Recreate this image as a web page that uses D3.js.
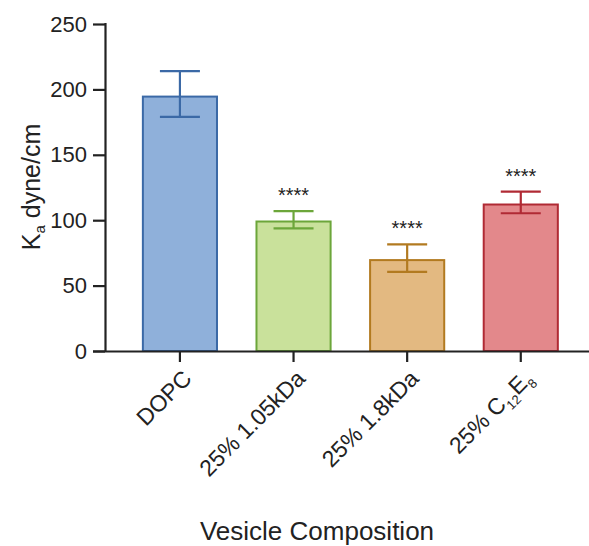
<!DOCTYPE html>
<html>
<head>
<meta charset="utf-8">
<script src="https://cdn.jsdelivr.net/npm/d3@7"></script>
<style>
  html, body { margin: 0; padding: 0; background: #fff; }
  svg { display: block; font-family: Arial, "Liberation Sans", Helvetica, sans-serif; }
</style>
</head>
<body>
<svg id="chart" width="589" height="546"></svg>
<script>
// Area compressibility modulus by vesicle composition
const categories = ["DOPC", "25% 1.05kDa", "25% 1.8kDa", "25% C12E8"];
const means      = [194.5, 99, 69.5, 112];
const errUpper   = [19.5, 8, 12, 9.8];
const errLower   = [15.5, 5.2, 9, 6.7];
const signif     = ["", "****", "****", "****"];
const yTicks     = [0, 50, 100, 150, 200, 250];
const fills      = ["#8fb0da", "#c9e19b", "#e3b981", "#e3888b"];
const strokes    = ["#3b69a6", "#6ca63a", "#b27a20", "#b02a34"];

const svg = d3.select("#chart");
const x0 = 105, x1 = 589, yTop = 24, yBase = 351;

const x = d3.scaleBand()
  .domain(categories)
  .range([x0, x1])
  .paddingInner(0.33)
  .paddingOuter(0.295)
  .align(0.55);

const y = d3.scaleLinear().domain([0, 250]).range([yBase, yTop]);

const data = categories.map((c, i) => ({
  c, m: means[i], hi: means[i] + errUpper[i], lo: means[i] - errLower[i],
  s: signif[i], fill: fills[i], stroke: strokes[i]
}));

// bars
svg.append("g").selectAll("rect").data(data).join("rect")
  .attr("x", d => x(d.c) + 1)
  .attr("width", x.bandwidth() - 2)
  .attr("y", d => y(d.m))
  .attr("height", d => y(0) - y(d.m))
  .attr("fill", d => d.fill)
  .attr("stroke", d => d.stroke)
  .attr("stroke-width", 2);

// error bars
const capW = 40;
const eb = svg.append("g").selectAll("g").data(data).join("g")
  .attr("stroke", d => d.stroke).attr("stroke-width", 2.2).attr("fill", "none");
eb.append("line")
  .attr("x1", d => x(d.c) + x.bandwidth() / 2)
  .attr("x2", d => x(d.c) + x.bandwidth() / 2)
  .attr("y1", d => y(d.hi)).attr("y2", d => y(d.lo));
eb.append("line")
  .attr("x1", d => x(d.c) + x.bandwidth() / 2 - capW / 2)
  .attr("x2", d => x(d.c) + x.bandwidth() / 2 + capW / 2)
  .attr("y1", d => y(d.hi)).attr("y2", d => y(d.hi));
eb.append("line")
  .attr("x1", d => x(d.c) + x.bandwidth() / 2 - capW / 2)
  .attr("x2", d => x(d.c) + x.bandwidth() / 2 + capW / 2)
  .attr("y1", d => y(d.lo)).attr("y2", d => y(d.lo));

// significance stars
svg.append("g").selectAll("text").data(data.filter(d => d.s)).join("text")
  .attr("x", d => x(d.c) + x.bandwidth() / 2)
  .attr("y", d => y(d.hi) - 9)
  .attr("text-anchor", "middle")
  .attr("font-size", 20)
  .attr("fill", "#222")
  .text(d => d.s);

// y axis
const yAxis = svg.append("g")
  .attr("transform", `translate(${x0},0)`)
  .call(d3.axisLeft(y).tickValues(yTicks).tickSize(12).tickPadding(6).tickSizeOuter(0));
yAxis.select(".domain").attr("stroke", "#222").attr("stroke-width", 2.2)
  .attr("d", `M0.5,${yTop - 1}V${yBase}`);
yAxis.selectAll(".tick line").attr("stroke", "#222").attr("stroke-width", 2.2);
yAxis.selectAll(".tick text").attr("font-size", 22).attr("fill", "#222")
  .attr("font-family", "Arial, 'Liberation Sans', sans-serif");

// x axis
const xAxis = svg.append("g")
  .attr("transform", `translate(0,${yBase})`)
  .call(d3.axisBottom(x).tickSize(11).tickSizeOuter(0));
xAxis.select(".domain").attr("stroke", "#222").attr("stroke-width", 2.2)
  .attr("d", `M${x0 - 12},0.5H${x1}`);
xAxis.selectAll(".tick line").attr("stroke", "#222").attr("stroke-width", 2.2);
xAxis.selectAll(".tick text").remove();

// rotated category labels, with subscripts for C12E8
const labelG = xAxis.selectAll(".tick").append("text")
  .attr("transform", "translate(13,29) rotate(-45)")
  .attr("text-anchor", "end")
  .attr("font-size", 23)
  .attr("fill", "#222")
  .attr("font-family", "Arial, 'Liberation Sans', sans-serif");
labelG.each(function(d) {
  const t = d3.select(this);
  if (d === "25% C12E8") {
    t.append("tspan").text("25% C");
    t.append("tspan").attr("font-size", 13).attr("dy", 6).text("12");
    t.append("tspan").attr("dy", -6).text("E");
    t.append("tspan").attr("font-size", 13).attr("dy", 6).text("8");
  } else {
    t.text(d);
  }
});

// axis titles
const yTitle = svg.append("text")
  .attr("transform", "translate(40,187) rotate(-90)")
  .attr("text-anchor", "middle")
  .attr("font-size", 25)
  .attr("fill", "#222");
yTitle.append("tspan").text("K");
yTitle.append("tspan").attr("font-size", 15).attr("dy", 5).text("a");
yTitle.append("tspan").attr("dy", -5).text(" dyne/cm");

svg.append("text")
  .attr("x", 317).attr("y", 540)
  .attr("text-anchor", "middle")
  .attr("font-size", 26)
  .attr("fill", "#222")
  .text("Vesicle Composition");
</script>
</body>
</html>
